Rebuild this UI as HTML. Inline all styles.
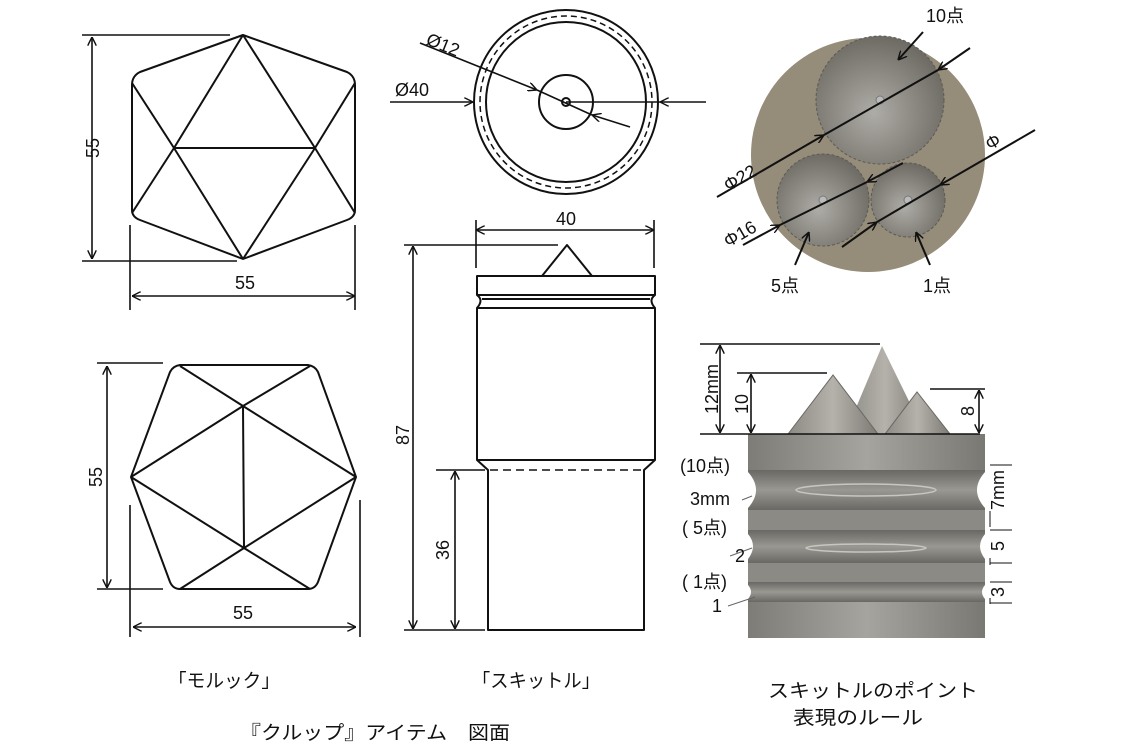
<!DOCTYPE html>
<html><head><meta charset="utf-8"><style>
html,body{margin:0;padding:0;background:#fff;}
svg{display:block;}
text{font-family:"Liberation Sans","Noto Sans CJK JP",sans-serif;fill:#111;}
</style></head><body>
<svg width="1134" height="756" viewBox="0 0 1134 756" xmlns="http://www.w3.org/2000/svg">
<defs>
<marker id="a" viewBox="0 0 10 10" refX="10" refY="5" markerWidth="9" markerHeight="9" orient="auto-start-reverse" markerUnits="userSpaceOnUse"><path d="M0,0 L10,5 L0,10" fill="none" stroke="#111" stroke-width="1.6"/></marker>
<radialGradient id="g1" cx="0.45" cy="0.6" r="0.7"><stop offset="0" stop-color="#aeaca6"/><stop offset="1" stop-color="#626058"/></radialGradient>
<linearGradient id="body" x1="0" x2="1" y1="0" y2="0"><stop offset="0" stop-color="#7e7c76"/><stop offset="0.5" stop-color="#a6a49e"/><stop offset="1" stop-color="#7a7872"/></linearGradient>
<linearGradient id="groove" x1="0" x2="0" y1="0" y2="1"><stop offset="0" stop-color="#6a6864"/><stop offset="0.5" stop-color="#9a9892"/><stop offset="1" stop-color="#6a6864"/></linearGradient>
<linearGradient id="cone" x1="0" x2="1"><stop offset="0" stop-color="#8c8a84"/><stop offset="0.5" stop-color="#b4b2aa"/><stop offset="1" stop-color="#7c7a74"/></linearGradient>
</defs>
<g stroke="#111" stroke-width="2" fill="none" stroke-linejoin="round">
<path d="M243,35 L140,72 Q132,76 132,85 L132,210 Q132,217 140,220 L243,259 L347,220 Q355,217 355,210 L355,85 Q355,76 347,72 Z"/>
<path d="M243,35 L174,148 L132,213 M132,83 L174,148 L243,259 M243,35 L315,148 L355,213 M355,83 L315,148 L243,259 M174,148 L315,148"/>
<g stroke-width="1.6">
<path d="M82,35 H230 M82,261 H237 M130,225 V310 M355,225 V310"/>
<path d="M92,37 V259" marker-start="url(#a)" marker-end="url(#a)"/>
<path d="M132,296 H355" marker-start="url(#a)" marker-end="url(#a)"/>
</g>
<path d="M180,365 H308 Q315,366 318,372 L356,477 L318,582 Q315,589 308,589 H180 Q173,589 170,582 L131,477 L170,372 Q173,366 180,365 Z"/>
<path d="M180,366 L243,406 L356,477 M310,366 L243,406 L131,477 M131,477 L244,548 L310,589 M356,477 L244,548 L180,589 M243,406 L244,548"/>
<g stroke-width="1.6">
<path d="M97,363 H163 M97,589 H163 M130,505 V637 M360,500 V637"/>
<path d="M107,366 V588" marker-start="url(#a)" marker-end="url(#a)"/>
<path d="M133,627 H356" marker-start="url(#a)" marker-end="url(#a)"/>
</g>
<circle cx="566" cy="102" r="92"/>
<circle cx="566" cy="102" r="80"/>
<circle cx="566" cy="102" r="86" stroke-width="1.5" stroke-dasharray="6,4"/>
<circle cx="566" cy="102" r="27"/>
<circle cx="566" cy="102" r="4"/>
<g stroke-width="1.6">
<path d="M390,102 H473" marker-end="url(#a)"/>
<path d="M706,102 H660" marker-end="url(#a)"/>
<path d="M566,102 H660"/>
<path d="M420,43 L537,90" marker-end="url(#a)"/>
<path d="M537,90 L592,115"/>
<path d="M630,127 L592,115" marker-end="url(#a)"/>
</g>
<path d="M542,276 L567,245 L592,276"/>
<rect x="477" y="276" width="178" height="19"/>
<path d="M477,295 Q484,300 477,308 M655,295 Q648,300 655,308 M482,299 H650"/>
<path d="M477,308 H655 V460 L644,470 V630 H488 V470 L477,460 Z"/>
<path d="M477,460 H655"/>
<path d="M490,470 H642" stroke-width="1.5" stroke-dasharray="8,5"/>
<g stroke-width="1.6">
<path d="M476,220 V268 M654,220 V268 M404,245 H558 M436,470 H485 M404,630 H485"/>
<path d="M476,230 H654" marker-start="url(#a)" marker-end="url(#a)"/>
<path d="M413,246 V629" marker-start="url(#a)" marker-end="url(#a)"/>
<path d="M455,471 V629" marker-start="url(#a)" marker-end="url(#a)"/>
</g>
</g>
<circle cx="868" cy="155" r="117" fill="#958c7a"/>
<circle cx="880" cy="100" r="64" fill="url(#g1)" stroke="#5c5a56" stroke-width="1" stroke-dasharray="3,2"/>
<circle cx="823" cy="200" r="46" fill="url(#g1)" stroke="#5c5a56" stroke-width="1" stroke-dasharray="3,2"/>
<circle cx="908" cy="200" r="37" fill="url(#g1)" stroke="#5c5a56" stroke-width="1" stroke-dasharray="3,2"/>
<circle cx="880" cy="100" r="4" fill="#bbb" stroke="#777"/>
<circle cx="823" cy="200" r="4" fill="#bbb" stroke="#777"/>
<circle cx="908" cy="200" r="4" fill="#bbb" stroke="#777"/>
<g stroke="#111" stroke-width="2" fill="none">
<path d="M717,197 L824,135" marker-end="url(#a)"/>
<path d="M824,135 L938,70"/>
<path d="M970,48 L938,70" marker-end="url(#a)"/>
<path d="M743,245 L780,225" marker-end="url(#a)"/>
<path d="M780,225 L867,182"/>
<path d="M903,163 L867,182" marker-end="url(#a)"/>
<path d="M842,247 L877,222" marker-end="url(#a)"/>
<path d="M877,222 L940,185"/>
<path d="M1035,130 L940,185" marker-end="url(#a)"/>
<path d="M923,32 L898,60" marker-end="url(#a)"/>
<path d="M795,265 L809,232" marker-end="url(#a)"/>
<path d="M930,265 L916,232" marker-end="url(#a)"/>
</g>
<rect x="748" y="434" width="237" height="204" fill="url(#body)"/>
<rect x="748" y="470" width="237" height="40" fill="url(#groove)"/>
<rect x="748" y="530" width="237" height="33" fill="url(#groove)"/>
<rect x="748" y="582" width="237" height="20" fill="url(#groove)"/>
<rect x="748" y="510" width="237" height="20" fill="#8c8a84"/>
<rect x="748" y="563" width="237" height="19" fill="#8c8a84"/>
<path d="M748,472 Q764,490 748,508 Z M985,472 Q969,490 985,508 Z M748,534 Q758,546 748,559 Z M985,534 Q975,546 985,559 Z M748,585 Q754,592 748,599 Z M985,585 Q979,592 985,599 Z" fill="#fff"/>
<ellipse cx="866" cy="490" rx="70" ry="6" fill="none" stroke="#c8c6c0" stroke-width="1.5"/>
<ellipse cx="866" cy="548" rx="60" ry="4" fill="none" stroke="#c8c6c0" stroke-width="1.5"/>
<polygon points="845,434 882,346 925,434" fill="url(#cone)"/>
<polygon points="788,434 833,375 878,434" fill="url(#cone)" stroke="#6a6864" stroke-width="1"/>
<polygon points="885,434 917,392 950,434" fill="url(#cone)" stroke="#6a6864" stroke-width="1"/>
<g stroke="#111" stroke-width="1.6" fill="none">
<path d="M700,344 H880 M700,434 H980 M737,373 H827 M930,389 H985"/>
<path d="M720,345 V433" marker-start="url(#a)" marker-end="url(#a)"/>
<path d="M751,374 V433" marker-start="url(#a)" marker-end="url(#a)"/>
<path d="M979,390 V433" marker-start="url(#a)" marker-end="url(#a)"/>
<path d="M990,465 H1012 M990,511 V527 M990,530 H1012 M990,558 V565 M990,563 H1012 M990,582 H1012 M990,598 V604 M990,603 H1012" stroke-width="1"/>
<path d="M752,496 L742,500 M752,548 L730,556 M755,597 L728,606" stroke="#666" stroke-width="1"/>
</g>
<g font-size="18">
<text x="93" y="148" text-anchor="middle" transform="rotate(-90 93 148)" dy="6">55</text>
<text x="245" y="289" text-anchor="middle">55</text>
<text x="96" y="477" text-anchor="middle" transform="rotate(-90 96 477)" dy="6">55</text>
<text x="243" y="619" text-anchor="middle">55</text>
<text x="395" y="96">Ø40</text>
<text x="425" y="44" transform="rotate(22 425 44)">Ø12</text>
<text x="566" y="225" text-anchor="middle">40</text>
<text x="403" y="435" text-anchor="middle" transform="rotate(-90 403 435)" dy="6">87</text>
<text x="443" y="550" text-anchor="middle" transform="rotate(-90 443 550)" dy="6">36</text>
<text x="945" y="22" text-anchor="middle">10点</text>
<text x="740" y="178" text-anchor="middle" transform="rotate(-30 740 178)" dy="6">Φ22</text>
<text x="740" y="234" text-anchor="middle" transform="rotate(-30 740 234)" dy="6">Φ16</text>
<text x="993" y="142" text-anchor="middle" transform="rotate(-30 993 142)" dy="6">Φ</text>
<text x="785" y="292" text-anchor="middle">5点</text>
<text x="937" y="292" text-anchor="middle">1点</text>
<text x="712" y="389" text-anchor="middle" transform="rotate(-90 712 389)" dy="6">12mm</text>
<text x="742" y="404" text-anchor="middle" transform="rotate(-90 742 404)" dy="6">10</text>
<text x="968" y="411" text-anchor="middle" transform="rotate(-90 968 411)" dy="6">8</text>
<text x="680" y="472">(10点)</text>
<text x="690" y="505">3mm</text>
<text x="682" y="534">( 5点)</text>
<text x="735" y="562">2</text>
<text x="682" y="588">( 1点)</text>
<text x="712" y="612">1</text>
<text x="998" y="490" text-anchor="middle" transform="rotate(-90 998 490)" dy="6">7mm</text>
<text x="998" y="546" text-anchor="middle" transform="rotate(-90 998 546)" dy="6">5</text>
<text x="998" y="592" text-anchor="middle" transform="rotate(-90 998 592)" dy="6">3</text>
</g>
<g font-size="19">
<text x="168" y="687" textLength="112" lengthAdjust="spacingAndGlyphs">「モルック」</text>
<text x="472" y="687" textLength="128" lengthAdjust="spacingAndGlyphs">「スキットル」</text>
<text x="768" y="697" textLength="210" lengthAdjust="spacingAndGlyphs">スキットルのポイント</text>
<text x="793" y="724" textLength="130" lengthAdjust="spacingAndGlyphs">表現のルール</text>
<text x="240" y="739" textLength="270" lengthAdjust="spacingAndGlyphs">『クルップ』アイテム　図面</text>
</g>
</svg>
</body></html>
